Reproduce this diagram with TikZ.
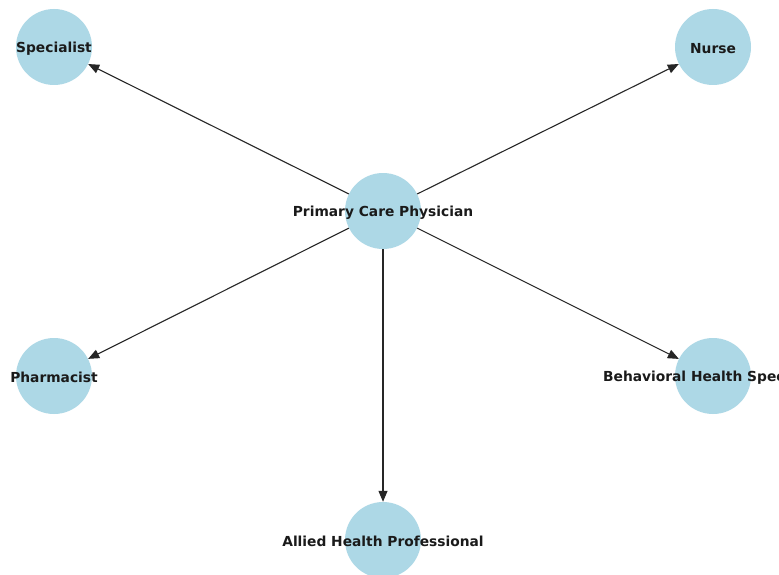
\documentclass[tikz,border=0pt]{standalone}
\usepackage{fontspec}
\setmainfont{DejaVu Sans}
\usetikzlibrary{arrows.meta}
\definecolor{nodeblue}{HTML}{ADD8E6}
\definecolor{labelink}{HTML}{1A1A1A}
\tikzset{
  role/.style={circle, fill=nodeblue, draw=none, minimum size=76pt, inner sep=0pt},
  rolename/.style={font=\bfseries\fontsize{13.8}{16}\selectfont, text=labelink, inner sep=0pt, yshift=-1.5pt},
  link/.style={draw=black!85, line width=1.1pt, -{Triangle[length=11pt,width=9pt]}}
}
\begin{document}
\begin{tikzpicture}[x=1pt, y=-1pt]
  \useasboundingbox (0,0) rectangle (779,575);
  \clip (0,0) rectangle (779,575);
  \fill[white] (0,0) rectangle (779,575);

  % care team members
  \node[role] (pcp)   at (383,211) {};
  \node[role] (spec)  at (54,47)   {};
  \node[role] (nurse) at (713,47)  {};
  \node[role] (pharm) at (54,376)  {};
  \node[role] (bhs)   at (713,376) {};
  \node[role] (ahp)   at (383,540) {};

  % referrals from the primary care physician
  \draw[link] (pcp) -- (spec);
  \draw[link] (pcp) -- (nurse);
  \draw[link] (pcp) -- (pharm);
  \draw[link] (pcp) -- (bhs);
  \draw[link] (pcp) -- (ahp);

  % role names
  \node[rolename] at (pcp)   {Primary Care Physician};
  \node[rolename] at (spec)  {Specialist};
  \node[rolename] at (nurse) {Nurse};
  \node[rolename] at (pharm) {Pharmacist};
  \node[rolename] at (bhs)   {Behavioral Health Specialist};
  \node[rolename] at (ahp)   {Allied Health Professional};
\end{tikzpicture}
\end{document}
